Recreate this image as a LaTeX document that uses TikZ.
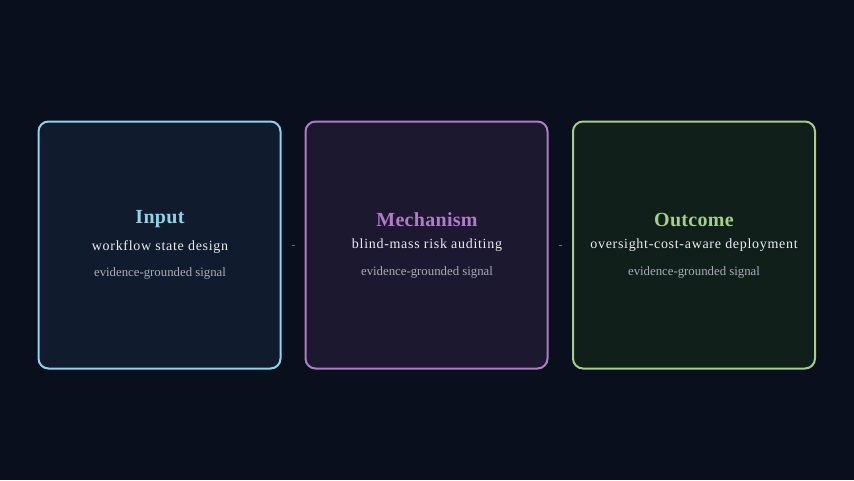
\documentclass[tikz,border=0pt]{standalone}
\usepackage{fontspec}
\setmainfont{Liberation Serif}
\usetikzlibrary{positioning}
\definecolor{bg}{HTML}{0A0F1E}
\definecolor{fillA}{HTML}{111B2E}
\definecolor{lineA}{HTML}{8FD3E6}
\definecolor{fillB}{HTML}{1B1830}
\definecolor{lineB}{HTML}{B07CC6}
\definecolor{fillC}{HTML}{111F1B}
\definecolor{lineC}{HTML}{A5CF86}
\definecolor{subtxt}{HTML}{ECECF2}
\definecolor{smalltxt}{HTML}{A9ADB8}
\definecolor{conn}{HTML}{6A7080}
\tikzset{
  card/.style={draw=#1, line width=2pt, rounded corners=10pt, minimum width=242pt, minimum height=247pt, inner sep=0pt},
  cardtitle/.style={text=#1, font=\fontsize{20}{22}\selectfont\bfseries\addfontfeature{LetterSpace=1.5}},
  cardsub/.style={text=subtxt, font=\fontsize{14}{16}\selectfont\addfontfeature{LetterSpace=5}},
  cardnote/.style={text=smalltxt, font=\fontsize{12.8}{15}\selectfont},
  link/.style={draw=conn, line width=0.6pt, shorten <=10pt, shorten >=10pt}
}
\begin{document}
\begin{tikzpicture}[x=1pt,y=-1pt]
\fill[bg] (0,0) rectangle (854,480);
\useasboundingbox (0,0) rectangle (854,480);
\node[card=lineA, fill=fillA] (b1) at (159.5,245) {};
\node[card=lineB, fill=fillB] (b2) at (426.5,245) {};
\node[card=lineC, fill=fillC] (b3) at (694,245) {};
\node[cardtitle=lineA] (t1) at (160,219) {Input};
\node[cardtitle=lineB] (t2) at (427,220) {Mechanism};
\node[cardtitle=lineC] (t3) at (694,220) {Outcome};
\node[cardsub] (s1) at (160,247) {workflow state design};
\node[cardsub] (s2) at (427,245.5) {blind-mass risk auditing};
\node[cardsub] (s3) at (694,245.5) {oversight-cost-aware deployment};
\node[cardnote] (n1) at (160,273.5) {evidence-grounded signal};
\node[cardnote] (n2) at (427,272.5) {evidence-grounded signal};
\node[cardnote] (n3) at (694,272.5) {evidence-grounded signal};
\draw[link] (b1.east) -- (b2.west);
\draw[link] (b2.east) -- (b3.west);
\end{tikzpicture}
\end{document}
